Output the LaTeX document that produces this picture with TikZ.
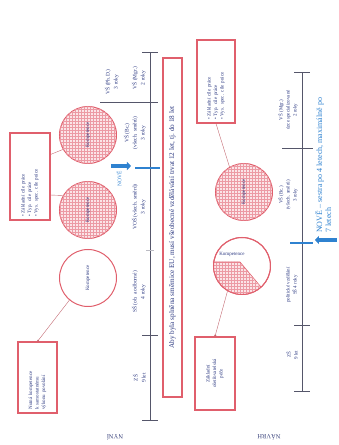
\documentclass[tikz,border=0pt]{standalone}
\usepackage{fontspec}
\setmainfont{Liberation Serif}
\usetikzlibrary{positioning,arrows.meta,patterns,calc}
\definecolor{skred}{HTML}{E05F6C}
\definecolor{skpink}{HTML}{FBE4E7}
\definecolor{skhatch}{HTML}{EC9AA4}
\definecolor{skink}{HTML}{2D3A82}
\definecolor{skaxis}{HTML}{55566A}
\definecolor{skblue}{HTML}{2F82D0}

\begin{document}
\begin{tikzpicture}[x=1pt, y=1pt,
  font=\fontsize{5.5}{8}\selectfont,
  ax/.style={draw=skaxis, line width=0.9pt},
  seg/.style={anchor=south, align=center, text=skink, inner sep=1pt},
  segs/.style={seg, font=\fontsize{5}{7}\selectfont},
  comp/.style={circle, draw=skred, line width=1pt, minimum size=57pt, inner sep=0pt, text=skink, font=\fontsize{5}{6}\selectfont},
  hatch/.style={comp, fill=skpink, postaction={pattern=grid, pattern color=skhatch}},
  card/.style={draw=skred, line width=1.2pt, fill=white, text=skink, inner sep=2.5pt, font=\fontsize{5}{6.5}\selectfont},
  link/.style={draw=skred!70!gray, line width=0.4pt},
  now/.style={draw=skblue, line width=1.8pt},
  nowarrow/.style={-{Triangle[length=4pt,width=8pt]}, draw=skblue, line width=3.5pt},
  rowlab/.style={rotate=90, text=skink!70!skaxis, font=\fontsize{6.5}{7}\selectfont}]
\useasboundingbox (-339,0) rectangle (0,445);
\begin{scope}[rotate=90, transform shape]
% NYNI: time axis
\draw[ax] (25,189) -- (393,189);
\foreach \u in {25,110,393} \draw[ax] (\u,181) -- (\u,197);
\draw[ax, draw=skaxis!40] (195,185) -- (195,193);
\draw[ax] (343,181) -- (343,239);
\draw[now] (277,179) -- (277,204);
\node[seg] (zs) at (67,192) {ZŠ\\9 let};
\node[seg] (ss) at (153,192) {SŠ (ob. a odborné)\\4 roky};
\node[seg] (vos) at (238,192) {VOŠ (všech. směrů)\\3 roky};
\node[seg] (bc) at (312,192) {VŠ (Bc.)\\(všech. směrů)\\3 roky};
\node[seg] (mgr) at (367,192) {VŠ (Mgr.)\\2 roky};
\node[seg] (phd) at (363,219) {VŠ (Ph.D.)\\3 roky};
\coordinate (nowtail) at (279,228);
\coordinate (nowhead) at (279,208);
\draw[nowarrow] (nowtail) -- (nowhead);
\node[text=skblue, left=2pt of nowtail, yshift=-8pt] (nove) {NOVĚ};
% NYNI: competences
\node[card, minimum width=339pt, minimum height=19pt, line width=1.5pt, font=\fontsize{7.2}{8}\selectfont] (aim) at (217.5,166.5) {Aby byla splněna směrnice EU, musí všeobecné vzdělávání trvat 12 let, tj. do 18 let};
\node[hatch] (k1) at (310,251) {Kompetence};
\node[hatch] (k2) at (235,251) {Kompetence};
\node[comp] (k3) at (167,251) {Kompetence};
\node[card, minimum width=87pt, minimum height=40pt, text width=80pt, align=left] (goals) at (268.5,309) {\textbullet\ Základní cíle práce\\\textbullet\ Typ. cíle práce\\\textbullet\ Vys. spec. cíle práce};
\node[card, minimum width=71pt, minimum height=39pt, text width=64pt, align=left] (self) at (67.5,301.5) {Nutná kompetence\\k samostatnému\\výkonu povolání};
\draw[link] ($(goals.south west)!0.75!(goals.south east)$) -- (k1.120);
\draw[link] ($(goals.south west)!0.29!(goals.south east)$) -- (k2.60);
\draw[link, -{Circle[length=2pt]}] (k3.140) -- (self.east);
\node[rowlab] (lnow) at (8,224) {NYNÍ};
% NAVRH: time axis
\draw[ax] (54,37) -- (373,37);
\foreach \u in {54,120,373} \draw[ax] (\u,29) -- (\u,45);
\draw[ax] (297,26) -- (297,57);
\draw[now] (202,26) -- (202,49);
\node[segs] (zs2) at (90,40) {ZŠ\\9 let};
\node[segs] (ss2) at (160,40) {politické vzdělání\\SŠ 4 roky};
\node[segs] (bc2) at (250,40) {VŠ (Bc.)\\(všech. směrů)\\3 roky};
\node[segs] (mgr2) at (335,40) {VŠ (Mgr.)\\úzce specializované\\2 roky};
\coordinate (newtail) at (205,2);
\coordinate (newhead) at (205,24);
\draw[nowarrow] (newtail) -- (newhead);
\node[anchor=north west, text=skblue, align=left, inner sep=0pt, font=\fontsize{8}{9}\selectfont] (sestra) at (212,24) {NOVĚ – sestra po 4 letech, maximálně po\\7 letech};
% NAVRH: competences
\node[hatch] (k4) at (253,95) {Kompetence};
\node[comp] (k5) at (179,97) {};
\begin{scope}
  \clip (k5.center) circle (28.5pt);
  \fill[skpink, postaction={pattern=grid, pattern color=skhatch}] ($(k5.center)+(4,40)$) -- ($(k5.center)+(4,2)$) -- ($(k5.center)+(-45,-37)$) -- ($(k5.center)+(-45,40)$) -- cycle;
\end{scope}
\draw[skred, line width=0.6pt] ($(k5.center)+(4,29)$) -- ($(k5.center)+(4,2)$) -- ($(k5.center)+(-21,-19)$);
\node[comp] at (k5) {};
\node[text=skink, rotate=-90, font=\fontsize{5}{6}\selectfont] (k5t) at ($(k5.center)+(12,10)$) {Kompetence};
\node[card, minimum width=83pt, minimum height=38pt, text width=76pt, align=left] (goals2) at (363.5,123) {\textbullet\ Základní cíle práce\\\textbullet\ Typ. cíle práce\\\textbullet\ Vys. spec. cíle práce};
\node[card, minimum width=73pt, minimum height=40pt, align=center] (care) at (71.5,124) {Základní\\ošetřovatelská\\péče};
\draw[link] (goals2.west) -- (k4.30);
\draw[link, -{Circle[length=2pt]}] (k5.150) -- (care.east);
\node[rowlab] (lprop) at (8,70) {NÁVRH};
\end{scope}
\end{tikzpicture}
\end{document}
